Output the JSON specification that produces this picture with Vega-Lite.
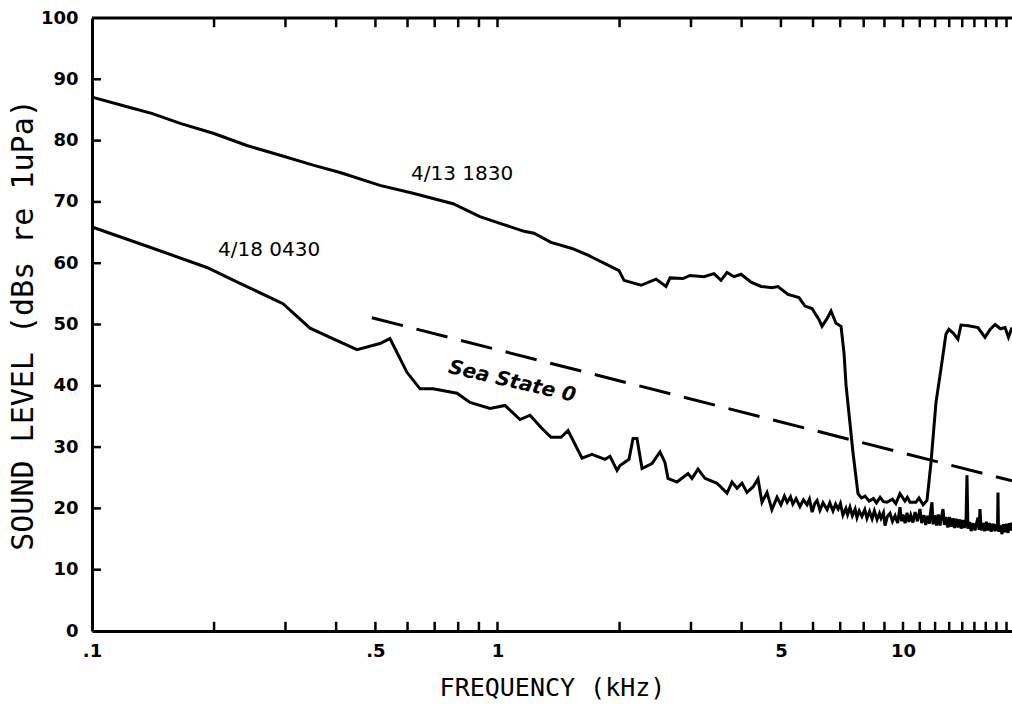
{
  "$schema": "https://vega.github.io/schema/vega-lite/v6.json",
  "autosize": {"type": "none"},
  "padding": {"left": 92, "top": 18, "right": 0, "bottom": 83},
  "width": 920,
  "height": 613,
  "background": "white",
  "config": {"view": {"stroke": null}},
  "datasets": {
    "curveA": [
      {"f": 0.1, "db": 87.1}, {"f": 0.124, "db": 85.4}, {"f": 0.141, "db": 84.4}, {"f": 0.165, "db": 82.8},
      {"f": 0.199, "db": 81.2}, {"f": 0.241, "db": 79.2}, {"f": 0.291, "db": 77.6}, {"f": 0.351, "db": 76.0},
      {"f": 0.409, "db": 74.8}, {"f": 0.513, "db": 72.7}, {"f": 0.619, "db": 71.4}, {"f": 0.777, "db": 69.7},
      {"f": 0.905, "db": 67.6}, {"f": 1.014, "db": 66.5}, {"f": 1.163, "db": 65.2}, {"f": 1.23, "db": 64.9},
      {"f": 1.355, "db": 63.4}, {"f": 1.527, "db": 62.4}, {"f": 1.672, "db": 61.3}, {"f": 1.994, "db": 58.8},
      {"f": 2.051, "db": 57.2}, {"f": 2.259, "db": 56.4}, {"f": 2.46, "db": 57.4}, {"f": 2.604, "db": 56.2},
      {"f": 2.664, "db": 57.6}, {"f": 2.867, "db": 57.5}, {"f": 2.983, "db": 58.0}, {"f": 3.231, "db": 57.8},
      {"f": 3.419, "db": 58.3}, {"f": 3.558, "db": 57.2}, {"f": 3.681, "db": 58.5}, {"f": 3.831, "db": 57.8},
      {"f": 3.987, "db": 58.2}, {"f": 4.22, "db": 56.9}, {"f": 4.466, "db": 56.2}, {"f": 4.753, "db": 56.0},
      {"f": 4.917, "db": 56.2}, {"f": 5.205, "db": 54.9}, {"f": 5.539, "db": 54.4}, {"f": 5.731, "db": 53.0},
      {"f": 5.965, "db": 52.6}, {"f": 6.208, "db": 50.8}, {"f": 6.314, "db": 49.7}, {"f": 6.5, "db": 51.0},
      {"f": 6.645, "db": 52.2}, {"f": 6.837, "db": 50.2}, {"f": 7.034, "db": 49.7}, {"f": 7.155, "db": 45.3},
      {"f": 7.236, "db": 40.1}, {"f": 7.531, "db": 29.0}, {"f": 7.745, "db": 22.4}, {"f": 7.9, "db": 21.7},
      {"f": 8.06, "db": 22.0}, {"f": 8.25, "db": 21.2}, {"f": 8.45, "db": 21.6}, {"f": 8.6, "db": 20.9},
      {"f": 8.78, "db": 21.8}, {"f": 8.95, "db": 21.1}, {"f": 9.13, "db": 21.0}, {"f": 9.42, "db": 21.5},
      {"f": 9.6, "db": 20.8}, {"f": 9.83, "db": 22.4}, {"f": 10.11, "db": 21.2}, {"f": 10.25, "db": 21.8},
      {"f": 10.41, "db": 21.0}, {"f": 10.76, "db": 21.0}, {"f": 10.95, "db": 21.7}, {"f": 11.21, "db": 20.6},
      {"f": 11.46, "db": 21.3}, {"f": 11.72, "db": 27.4}, {"f": 12.06, "db": 37.3}, {"f": 12.41, "db": 42.8},
      {"f": 12.76, "db": 48.4}, {"f": 12.98, "db": 49.2}, {"f": 13.3, "db": 48.6}, {"f": 13.66, "db": 47.6},
      {"f": 13.9, "db": 49.9}, {"f": 14.5, "db": 49.8}, {"f": 15.31, "db": 49.5}, {"f": 15.93, "db": 47.9},
      {"f": 16.4, "db": 49.2}, {"f": 16.87, "db": 50.0}, {"f": 17.4, "db": 49.3}, {"f": 17.85, "db": 49.5},
      {"f": 18.2, "db": 47.9}, {"f": 18.57, "db": 49.5}
    ],
    "curveB": [
      {"f": 0.1, "db": 65.9}, {"f": 0.139, "db": 62.6}, {"f": 0.192, "db": 59.3}, {"f": 0.2317, "db": 56.7},
      {"f": 0.2958, "db": 53.4}, {"f": 0.3449, "db": 49.4}, {"f": 0.3863, "db": 47.9}, {"f": 0.4503, "db": 45.9},
      {"f": 0.5131, "db": 46.9}, {"f": 0.543, "db": 47.7}, {"f": 0.598, "db": 42.2}, {"f": 0.6441, "db": 39.5},
      {"f": 0.6935, "db": 39.5}, {"f": 0.7946, "db": 38.8}, {"f": 0.8555, "db": 37.3}, {"f": 0.9583, "db": 36.3},
      {"f": 1.0435, "db": 36.8}, {"f": 1.1364, "db": 34.5}, {"f": 1.203, "db": 35.2}, {"f": 1.2806, "db": 33.2},
      {"f": 1.355, "db": 31.6}, {"f": 1.4344, "db": 31.6}, {"f": 1.4926, "db": 32.7}, {"f": 1.6161, "db": 28.2},
      {"f": 1.71, "db": 28.8}, {"f": 1.8415, "db": 28.0}, {"f": 1.8946, "db": 28.5}, {"f": 1.9715, "db": 26.2},
      {"f": 2.005, "db": 27.0}, {"f": 2.11, "db": 28.0}, {"f": 2.159, "db": 31.4}, {"f": 2.208, "db": 31.4},
      {"f": 2.272, "db": 26.5}, {"f": 2.404, "db": 27.3}, {"f": 2.516, "db": 29.2}, {"f": 2.588, "db": 27.5},
      {"f": 2.633, "db": 24.9}, {"f": 2.771, "db": 24.3}, {"f": 2.95, "db": 25.7}, {"f": 3.018, "db": 24.9},
      {"f": 3.122, "db": 26.4}, {"f": 3.249, "db": 24.9}, {"f": 3.478, "db": 24.1}, {"f": 3.681, "db": 22.5},
      {"f": 3.788, "db": 24.3}, {"f": 3.897, "db": 23.3}, {"f": 4.009, "db": 24.1}, {"f": 4.124, "db": 22.6},
      {"f": 4.267, "db": 23.5}, {"f": 4.389, "db": 24.8}, {"f": 4.49, "db": 21.0}, {"f": 4.62, "db": 22.6},
      {"f": 4.75, "db": 19.8}, {"f": 4.89, "db": 21.8}, {"f": 5.0, "db": 20.6}, {"f": 5.1, "db": 22.0},
      {"f": 5.18, "db": 21.0}, {"f": 5.28, "db": 21.9}, {"f": 5.35, "db": 20.7}, {"f": 5.45, "db": 21.6},
      {"f": 5.57, "db": 20.3}, {"f": 5.68, "db": 21.4}, {"f": 5.8, "db": 20.6}, {"f": 5.88, "db": 21.5},
      {"f": 5.97, "db": 19.4}, {"f": 6.06, "db": 20.8}, {"f": 6.14, "db": 21.3}, {"f": 6.24, "db": 19.7},
      {"f": 6.35, "db": 20.9}, {"f": 6.5, "db": 19.8}, {"f": 6.6, "db": 20.9}, {"f": 6.72, "db": 19.6},
      {"f": 6.82, "db": 20.7}, {"f": 6.92, "db": 19.9}, {"f": 7.01, "db": 20.8}, {"f": 7.11, "db": 18.9},
      {"f": 7.23, "db": 20.0}, {"f": 7.3, "db": 19.0}, {"f": 7.4, "db": 20.2}, {"f": 7.5, "db": 18.8},
      {"f": 7.62, "db": 19.9}, {"f": 7.7, "db": 18.5}, {"f": 7.8, "db": 19.6}, {"f": 7.92, "db": 18.7},
      {"f": 8.05, "db": 19.8}, {"f": 8.15, "db": 18.4}, {"f": 8.27, "db": 19.5}, {"f": 8.39, "db": 18.3},
      {"f": 8.5, "db": 19.6}, {"f": 8.63, "db": 18.2}, {"f": 8.75, "db": 19.2}, {"f": 8.83, "db": 18.4},
      {"f": 8.95, "db": 19.3}, {"f": 9.03, "db": 17.2}, {"f": 9.15, "db": 18.7}, {"f": 9.29, "db": 19.2},
      {"f": 9.42, "db": 17.9}, {"f": 9.56, "db": 18.8}, {"f": 9.7, "db": 17.6}, {"f": 9.83, "db": 20.2},
      {"f": 9.92, "db": 17.9}, {"f": 10.0, "db": 19.0}, {"f": 10.12, "db": 17.6}, {"f": 10.23, "db": 19.3},
      {"f": 10.34, "db": 17.8}, {"f": 10.45, "db": 18.9}, {"f": 10.58, "db": 17.7}, {"f": 10.71, "db": 19.4},
      {"f": 10.85, "db": 17.9}, {"f": 11.01, "db": 19.9}, {"f": 11.12, "db": 17.6}, {"f": 11.27, "db": 18.9},
      {"f": 11.38, "db": 17.3}, {"f": 11.5, "db": 18.8}, {"f": 11.62, "db": 17.5}, {"f": 11.7, "db": 19.5},
      {"f": 11.79, "db": 21.0}, {"f": 11.86, "db": 17.4}, {"f": 11.98, "db": 18.9}, {"f": 12.1, "db": 17.2},
      {"f": 12.22, "db": 19.0}, {"f": 12.34, "db": 17.2}, {"f": 12.45, "db": 18.7}, {"f": 12.55, "db": 19.9},
      {"f": 12.65, "db": 17.3}, {"f": 12.76, "db": 18.6}, {"f": 12.9, "db": 16.9}, {"f": 13.02, "db": 18.6},
      {"f": 13.15, "db": 17.0}, {"f": 13.28, "db": 18.4}, {"f": 13.4, "db": 16.8}, {"f": 13.53, "db": 18.3},
      {"f": 13.66, "db": 16.9}, {"f": 13.8, "db": 18.2}, {"f": 13.92, "db": 16.7}, {"f": 14.05, "db": 18.1},
      {"f": 14.18, "db": 16.8}, {"f": 14.3, "db": 17.9}, {"f": 14.38, "db": 25.4}, {"f": 14.46, "db": 16.7},
      {"f": 14.6, "db": 17.8}, {"f": 14.72, "db": 16.3}, {"f": 14.88, "db": 17.6}, {"f": 15.05, "db": 16.4},
      {"f": 15.2, "db": 17.7}, {"f": 15.31, "db": 18.5}, {"f": 15.4, "db": 16.5}, {"f": 15.48, "db": 19.9},
      {"f": 15.6, "db": 16.4}, {"f": 15.75, "db": 17.6}, {"f": 15.9, "db": 16.3}, {"f": 16.05, "db": 17.8},
      {"f": 16.2, "db": 16.4}, {"f": 16.35, "db": 17.6}, {"f": 16.5, "db": 16.2}, {"f": 16.67, "db": 17.5},
      {"f": 16.85, "db": 16.3}, {"f": 17.0, "db": 17.4}, {"f": 17.1, "db": 16.4}, {"f": 17.15, "db": 22.6},
      {"f": 17.2, "db": 16.2}, {"f": 17.35, "db": 17.3}, {"f": 17.55, "db": 15.8}, {"f": 17.7, "db": 17.4},
      {"f": 17.85, "db": 16.1}, {"f": 18.0, "db": 17.5}, {"f": 18.16, "db": 16.0}, {"f": 18.3, "db": 17.6},
      {"f": 18.45, "db": 16.4}, {"f": 18.57, "db": 17.7}
    ],
    "seaLine": [{"f": 0.49, "db": 51.1}, {"f": 18.57, "db": 24.5}],
    "topFrame": [{"f": 0.1, "db": 100}, {"f": 18.57, "db": 100}],
    "curveNames": [
      {"f": 0.8176, "db": 74.5, "name": "4/13  1830"},
      {"f": 0.2733, "db": 62.2, "name": "4/18  0430"}
    ],
    "seaName": [{"f": 1.086, "db": 40.7, "name": "Sea State 0"}],
    "tickSegs": [
      {"id": "b1", "f": 0.2, "db": 0}, {"id": "b1", "f": 0.2, "db": 1.5},
      {"id": "b2", "f": 0.3, "db": 0}, {"id": "b2", "f": 0.3, "db": 1.5},
      {"id": "b3", "f": 0.4, "db": 0}, {"id": "b3", "f": 0.4, "db": 1.5},
      {"id": "b4", "f": 0.5, "db": 0}, {"id": "b4", "f": 0.5, "db": 1.5},
      {"id": "b5", "f": 0.6, "db": 0}, {"id": "b5", "f": 0.6, "db": 1.5},
      {"id": "b6", "f": 0.7, "db": 0}, {"id": "b6", "f": 0.7, "db": 1.5},
      {"id": "b7", "f": 0.8, "db": 0}, {"id": "b7", "f": 0.8, "db": 1.5},
      {"id": "b8", "f": 0.9, "db": 0}, {"id": "b8", "f": 0.9, "db": 1.5},
      {"id": "b9", "f": 1, "db": 0}, {"id": "b9", "f": 1, "db": 1.5},
      {"id": "b10", "f": 2, "db": 0}, {"id": "b10", "f": 2, "db": 1.5},
      {"id": "b11", "f": 3, "db": 0}, {"id": "b11", "f": 3, "db": 1.5},
      {"id": "b12", "f": 4, "db": 0}, {"id": "b12", "f": 4, "db": 1.5},
      {"id": "b13", "f": 5, "db": 0}, {"id": "b13", "f": 5, "db": 1.5},
      {"id": "b14", "f": 6, "db": 0}, {"id": "b14", "f": 6, "db": 1.5},
      {"id": "b15", "f": 7, "db": 0}, {"id": "b15", "f": 7, "db": 1.5},
      {"id": "b16", "f": 8, "db": 0}, {"id": "b16", "f": 8, "db": 1.5},
      {"id": "b17", "f": 9, "db": 0}, {"id": "b17", "f": 9, "db": 1.5},
      {"id": "b18", "f": 10, "db": 0}, {"id": "b18", "f": 10, "db": 1.5},
      {"id": "b19", "f": 11, "db": 0}, {"id": "b19", "f": 11, "db": 1.5},
      {"id": "b20", "f": 12, "db": 0}, {"id": "b20", "f": 12, "db": 1.5},
      {"id": "b21", "f": 13, "db": 0}, {"id": "b21", "f": 13, "db": 1.5},
      {"id": "b22", "f": 14, "db": 0}, {"id": "b22", "f": 14, "db": 1.5},
      {"id": "b23", "f": 15, "db": 0}, {"id": "b23", "f": 15, "db": 1.5},
      {"id": "b24", "f": 16, "db": 0}, {"id": "b24", "f": 16, "db": 1.5},
      {"id": "b25", "f": 17, "db": 0}, {"id": "b25", "f": 17, "db": 1.5},
      {"id": "b26", "f": 18, "db": 0}, {"id": "b26", "f": 18, "db": 1.5},
      {"id": "t1", "f": 0.2, "db": 100}, {"id": "t1", "f": 0.2, "db": 98.5},
      {"id": "t2", "f": 0.3, "db": 100}, {"id": "t2", "f": 0.3, "db": 98.5},
      {"id": "t3", "f": 0.4, "db": 100}, {"id": "t3", "f": 0.4, "db": 98.5},
      {"id": "t4", "f": 0.5, "db": 100}, {"id": "t4", "f": 0.5, "db": 98.5},
      {"id": "t5", "f": 0.6, "db": 100}, {"id": "t5", "f": 0.6, "db": 98.5},
      {"id": "t6", "f": 0.7, "db": 100}, {"id": "t6", "f": 0.7, "db": 98.5},
      {"id": "t7", "f": 0.8, "db": 100}, {"id": "t7", "f": 0.8, "db": 98.5},
      {"id": "t8", "f": 0.9, "db": 100}, {"id": "t8", "f": 0.9, "db": 98.5},
      {"id": "t9", "f": 1, "db": 100}, {"id": "t9", "f": 1, "db": 98.5},
      {"id": "t10", "f": 2, "db": 100}, {"id": "t10", "f": 2, "db": 98.5},
      {"id": "t11", "f": 3, "db": 100}, {"id": "t11", "f": 3, "db": 98.5},
      {"id": "t12", "f": 4, "db": 100}, {"id": "t12", "f": 4, "db": 98.5},
      {"id": "t13", "f": 5, "db": 100}, {"id": "t13", "f": 5, "db": 98.5},
      {"id": "t14", "f": 6, "db": 100}, {"id": "t14", "f": 6, "db": 98.5},
      {"id": "t15", "f": 7, "db": 100}, {"id": "t15", "f": 7, "db": 98.5},
      {"id": "t16", "f": 8, "db": 100}, {"id": "t16", "f": 8, "db": 98.5},
      {"id": "t17", "f": 9, "db": 100}, {"id": "t17", "f": 9, "db": 98.5},
      {"id": "t18", "f": 10, "db": 100}, {"id": "t18", "f": 10, "db": 98.5},
      {"id": "t19", "f": 11, "db": 100}, {"id": "t19", "f": 11, "db": 98.5},
      {"id": "t20", "f": 12, "db": 100}, {"id": "t20", "f": 12, "db": 98.5},
      {"id": "t21", "f": 13, "db": 100}, {"id": "t21", "f": 13, "db": 98.5},
      {"id": "t22", "f": 14, "db": 100}, {"id": "t22", "f": 14, "db": 98.5},
      {"id": "t23", "f": 15, "db": 100}, {"id": "t23", "f": 15, "db": 98.5},
      {"id": "t24", "f": 16, "db": 100}, {"id": "t24", "f": 16, "db": 98.5},
      {"id": "t25", "f": 17, "db": 100}, {"id": "t25", "f": 17, "db": 98.5},
      {"id": "t26", "f": 18, "db": 100}, {"id": "t26", "f": 18, "db": 98.5},
      {"id": "y1", "f": 0.1, "db": 10}, {"id": "y1", "f": 0.1052, "db": 10},
      {"id": "y2", "f": 0.1, "db": 20}, {"id": "y2", "f": 0.1052, "db": 20},
      {"id": "y3", "f": 0.1, "db": 30}, {"id": "y3", "f": 0.1052, "db": 30},
      {"id": "y4", "f": 0.1, "db": 40}, {"id": "y4", "f": 0.1052, "db": 40},
      {"id": "y5", "f": 0.1, "db": 50}, {"id": "y5", "f": 0.1052, "db": 50},
      {"id": "y6", "f": 0.1, "db": 60}, {"id": "y6", "f": 0.1052, "db": 60},
      {"id": "y7", "f": 0.1, "db": 70}, {"id": "y7", "f": 0.1052, "db": 70},
      {"id": "y8", "f": 0.1, "db": 80}, {"id": "y8", "f": 0.1052, "db": 80},
      {"id": "y9", "f": 0.1, "db": 90}, {"id": "y9", "f": 0.1052, "db": 90}
    ]
  },
  "layer": [
    {
      "data": {"name": "curveA"},
      "mark": {"type": "line", "color": "black", "strokeWidth": 3},
      "encoding": {
        "x": {
          "field": "f", "type": "quantitative",
          "scale": {"type": "log", "domain": [0.1, 18.57], "nice": false},
          "axis": {
            "orient": "bottom",
            "values": [0.1, 0.5, 1, 5, 10],
            "labelExpr": "datum.value == 0.1 ? '.1' : datum.value == 0.5 ? '.5' : datum.value == 1 ? '1' : datum.value == 5 ? '5' : '10'",
            "labelFlush": false,
            "grid": false, "tickSize": 0, "tickColor": "black",
            "domainColor": "black", "domainWidth": 3,
            "labelPadding": 11, "labelFont": "DejaVu Sans", "labelFontSize": 18, "labelFontWeight": "bold", "labelColor": "black",
            "title": "FREQUENCY  (kHz)", "titleFont": "DejaVu Sans Mono", "titleFontSize": 25, "titleFontWeight": "normal", "titleColor": "black", "titlePadding": 15
          }
        },
        "y": {
          "field": "db", "type": "quantitative",
          "scale": {"domain": [0, 100], "nice": false},
          "axis": {
            "orient": "left",
            "values": [0, 10, 20, 30, 40, 50, 60, 70, 80, 90, 100],
            "grid": false, "tickSize": 0, "tickColor": "black",
            "domainColor": "black", "domainWidth": 3,
            "labelPadding": 14, "labelFont": "DejaVu Sans", "labelFontSize": 18, "labelFontWeight": "bold", "labelColor": "black",
            "title": "SOUND LEVEL  (dBs re 1uPa)", "titleFont": "DejaVu Sans Mono", "titleFontSize": 30, "titleFontWeight": "normal", "titleColor": "black", "titlePadding": 2
          }
        }
      }
    },
    {
      "data": {"name": "curveB"},
      "mark": {"type": "line", "color": "black", "strokeWidth": 3},
      "encoding": {
        "x": {"field": "f", "type": "quantitative"},
        "y": {"field": "db", "type": "quantitative"}
      }
    },
    {
      "data": {"name": "topFrame"},
      "mark": {"type": "line", "color": "black", "strokeWidth": 3},
      "encoding": {
        "x": {"field": "f", "type": "quantitative"},
        "y": {"field": "db", "type": "quantitative"}
      }
    },
    {
      "data": {"name": "tickSegs"},
      "mark": {"type": "line", "color": "black", "strokeWidth": 2.5},
      "encoding": {
        "x": {"field": "f", "type": "quantitative"},
        "y": {"field": "db", "type": "quantitative"},
        "detail": {"field": "id", "type": "nominal"}
      }
    },
    {
      "data": {"name": "seaLine"},
      "mark": {"type": "line", "color": "black", "strokeWidth": 3, "strokeDash": [32, 14]},
      "encoding": {
        "x": {"field": "f", "type": "quantitative"},
        "y": {"field": "db", "type": "quantitative"}
      }
    },
    {
      "data": {"name": "curveNames"},
      "mark": {"type": "text", "color": "black", "font": "DejaVu Sans", "fontSize": 20, "align": "center", "baseline": "middle"},
      "encoding": {
        "x": {"field": "f", "type": "quantitative"},
        "y": {"field": "db", "type": "quantitative"},
        "text": {"field": "name"}
      }
    },
    {
      "data": {"name": "seaName"},
      "mark": {"type": "text", "color": "black", "font": "DejaVu Sans", "fontSize": 20, "fontWeight": "bold", "fontStyle": "italic", "angle": 13, "align": "center", "baseline": "middle"},
      "encoding": {
        "x": {"field": "f", "type": "quantitative"},
        "y": {"field": "db", "type": "quantitative"},
        "text": {"field": "name"}
      }
    }
  ]
}
